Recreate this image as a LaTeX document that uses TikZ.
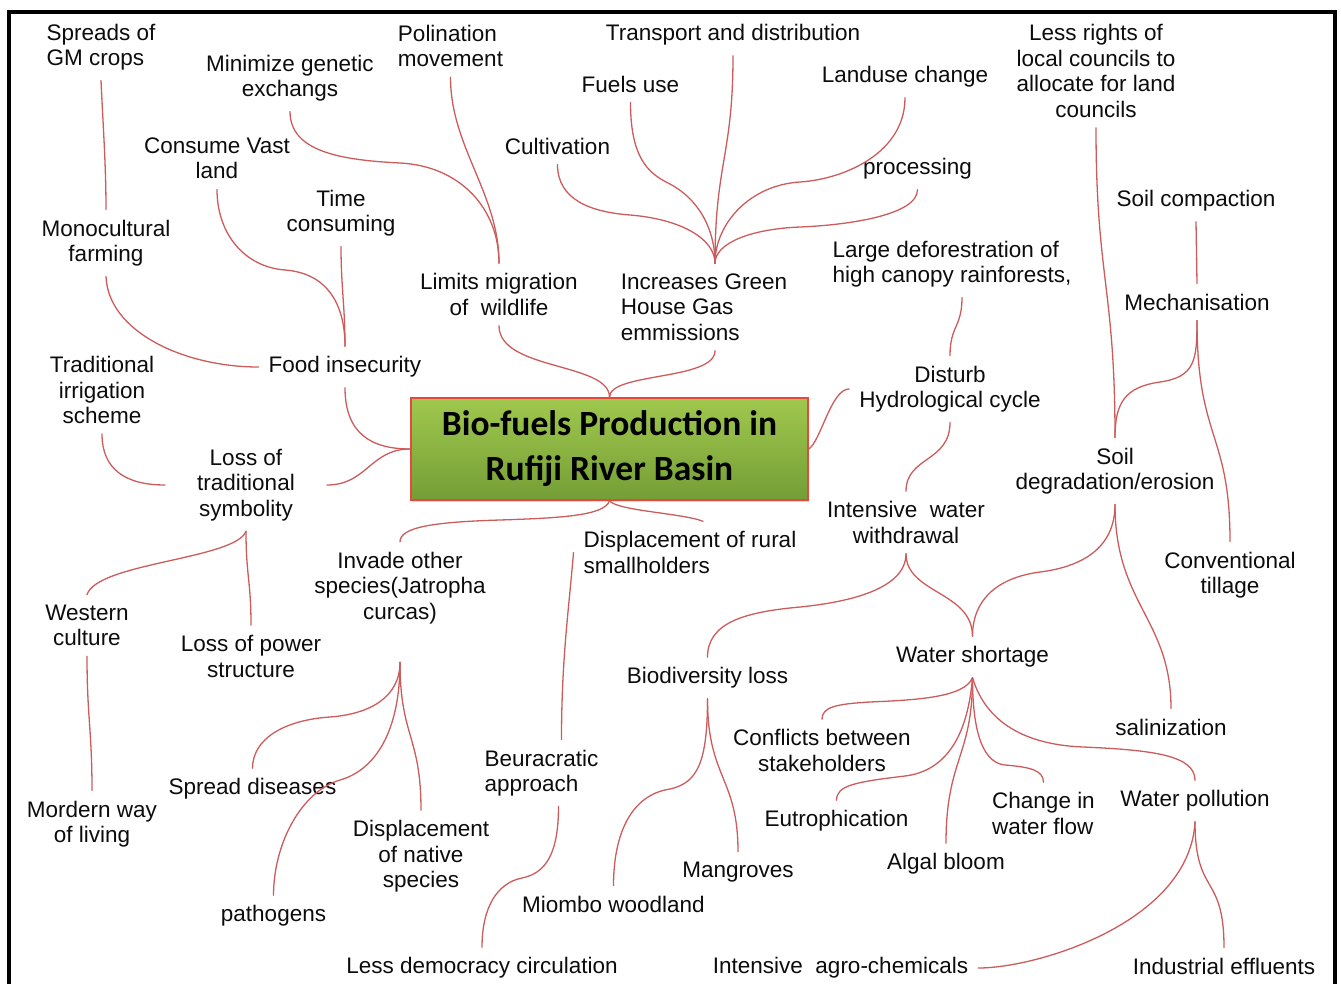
\documentclass[tikz,border=0pt]{standalone}
\usepackage{fontspec}
\setmainfont{Liberation Sans}
\newfontfamily\hubfont{Carlito}
\usetikzlibrary{shadows}
\definecolor{linkclr}{RGB}{204,92,92}
\definecolor{inkclr}{RGB}{12,12,12}
\definecolor{hubtop}{RGB}{160,200,78}
\definecolor{hubbot}{RGB}{116,158,54}
\definecolor{hubedge}{RGB}{228,72,62}
\tikzset{
  topic/.style={font=\fontsize{22.5}{25.5}\selectfont, text=inkclr,
                inner sep=10pt, align=center},
  ltopic/.style={topic, align=left},
  hub/.style={draw=hubedge, line width=1.6pt, top color=hubtop, bottom color=hubbot,
              minimum width=397pt, minimum height=102pt, align=center,
              font=\hubfont\bfseries\fontsize{35.5}{45}\selectfont,
              drop shadow={shadow xshift=1pt, shadow yshift=-2pt, opacity=0.25}},
  link/.style={draw=linkclr, line width=1.3pt, line cap=round},
}

\begin{document}
\begin{tikzpicture}[x=1pt, y=-1pt]
\useasboundingbox (0,0) rectangle (1341,983);
\clip (0,0) rectangle (1341,983);
\draw[line width=4pt] (9,1000) |- (1335,11.5) -- (1335,1000);

\node[hub] (biofuel) at (609.5,449) {Bio-fuels Production in\\Rufiji River Basin};

\node[ltopic] (gm) at (101,47) {Spreads of\\GM crops};
\node[topic] (mingen) at (290,78) {Minimize genetic\\exchangs};
\node[ltopic] (polin) at (450.5,46) {Polination\\movement};
\node[topic] (transp) at (733,35) {Transport and distribution};
\node[topic] (fuels) at (630.5,84) {Fuels use};
\node[topic] (landuse) at (905,77) {Landuse change};
\node[topic] (rights) at (1096,71) {Less rights of\\local councils to\\allocate for land\\councils};
\node[topic] (vastland) at (217,158.5) {Consume Vast\\land};
\node[topic] (cultiv) at (557.5,146) {Cultivation};
\node[topic] (process) at (917.5,169) {processing};
\node[topic] (compact) at (1196,201) {Soil compaction};
\node[topic] (timecons) at (341,213) {Time\\consuming};
\node[topic] (mono) at (106,243) {Monocultural\\farming};
\node[ltopic] (deforest) at (952,264) {Large deforestration of\\high canopy rainforests,};
\node[topic] (migr) at (499,294.5) {Limits migration\\of~ wildlife};
\node[ltopic] (ghg) at (704,307) {Increases Green\\House Gas\\emmissions};
\node[topic] (mech) at (1197,302) {Mechanisation};
\node[topic] (food) at (345,367) {Food insecurity};
\node[topic] (irrig) at (102,390) {Traditional\\irrigation\\scheme};
\node[topic] (hydro) at (950,389) {Disturb\\Hydrological cycle};
\node[topic, inner xsep=32pt] (symbol) at (246,485) {Loss of\\traditional\\symbolity};
\node[topic] (soildeg) at (1115,471) {Soil\\degradation/erosion};
\node[topic] (withdraw) at (906,522.5) {Intensive~ water\\withdrawal};
\node[ltopic] (rural) at (690,552.5) {Displacement of rural\\smallholders};
\node[topic] (invade) at (400,588) {Invade other\\species(Jatropha\\curcas)};
\node[topic] (tillage) at (1230,575) {Conventional\\tillage};
\node[topic] (western) at (87,625.5) {Western\\culture};
\node[topic] (power) at (251,656.5) {Loss of power\\structure};
\node[topic] (shortage) at (972.5,657) {Water shortage};
\node[topic] (biodiv) at (707.5,678) {Biodiversity loss};
\node[topic] (salin) at (1171,727) {salinization};
\node[topic] (conflict) at (822,750.5) {Conflicts between\\stakeholders};
\node[ltopic] (bureau) at (541.5,773) {Beuracratic\\approach};
\node[topic] (disease) at (252.5,789) {Spread diseases};
\node[ltopic] (flow) at (1043.5,813.5) {Change in\\water flow};
\node[topic] (pollut) at (1195,801) {Water pollution};
\node[topic] (modern) at (92,824) {Mordern way\\of living};
\node[topic] (eutro) at (836.5,821) {Eutrophication};
\node[topic] (native) at (421,856.5) {Displacement\\of native\\species};
\node[topic] (algal) at (946,864) {Algal bloom};
\node[topic] (mangrove) at (738,872) {Mangroves};
\node[topic] (miombo) at (613.5,904) {Miombo woodland};
\node[topic] (pathogen) at (273.5,916) {pathogens};
\node[topic] (democ) at (482,968) {Less democracy circulation};
\node[topic] (agrochem) at (840.5,968) {Intensive~ agro-chemicals};
\node[topic] (effluent) at (1224,966) {Industrial effluents};

\draw[link] (gm.south) .. controls +(2,45) and +(0,-45) .. (mono.north);
\draw[link] (mono.south) .. controls +(2,55) and +(-75,0) .. (food.west);
\draw[link] (vastland.south) .. controls +(0,45) and +(-40,-3) .. (285,270) .. controls +(40,3) and +(0,-45) .. (food.north);
\draw[link] (timecons.south) .. controls +(0,40) and +(0,-40) .. (food.north);
\draw[link] (food.south) .. controls +(0,45) and +(-40,0) .. (biofuel.west);
\draw[link] (irrig.south) .. controls +(0,35) and +(-40,0) .. (symbol.west);
\draw[link] (symbol.east) .. controls +(40,0) and +(-40,0) .. (biofuel.west);
\draw[link] (symbol.south) .. controls +(-10,28) and +(10,-32) .. (western.north);
\draw[link] (symbol.south) .. controls +(0,45) and +(0,-45) .. (power.north);
\draw[link] (western.south) .. controls +(0,60) and +(0,-60) .. (modern.north);

\draw[link] (mingen.south) .. controls +(0,40) and +(-60,-3) .. (400,163) .. controls +(60,3) and +(0,-55) .. (migr.north);
\draw[link] (polin.south) .. controls +(0,70) and +(0,-70) .. (migr.north);
\draw[link] (migr.south) .. controls +(0,45) and +(0,-35) .. (biofuel.north);
\draw[link] ([xshift=11pt]ghg.south) .. controls +(0,30) and +(0,-25) .. (biofuel.north);
\draw[link] (cultiv.south) .. controls +(0,35) and +(-40,-3) .. (630,215) .. controls +(50,4) and +(0,-25) .. ([xshift=11pt]ghg.north);
\draw[link] (fuels.south) .. controls +(0,55) and +(-20,-10) .. (668,183) .. controls +(30,15) and +(0,-35) .. ([xshift=11pt]ghg.north);
\draw[link] (transp.south) .. controls +(0,100) and +(0,-100) .. ([xshift=11pt]ghg.north);
\draw[link] (landuse.south) .. controls +(0,55) and +(45,-3) .. (800,182) .. controls +(-50,3) and +(0,-40) .. ([xshift=11pt]ghg.north);
\draw[link] (process.south) .. controls +(0,25) and +(50,-2) .. (800,227) .. controls +(-50,2) and +(0,-20) .. ([xshift=11pt]ghg.north);

\draw[link] ([xshift=10pt]deforest.south) .. controls +(0,30) and +(0,-30) .. (hydro.north);
\draw[link] (hydro.west) .. controls +(-18,0) and +(12,-8) .. (biofuel.east);
\draw[link] (hydro.south) .. controls +(0,40) and +(0,-35) .. (withdraw.north);
\draw[link] (withdraw.south) .. controls +(0,35) and +(50,-5) .. (800,607) .. controls +(-55,5) and +(0,-35) .. (biodiv.north);
\draw[link] (withdraw.south) .. controls +(0,40) and +(0,-45) .. (shortage.north);
\draw[link] (soildeg.south) .. controls +(0,45) and +(40,-5) .. (1040,572) .. controls +(-45,6) and +(0,-35) .. (shortage.north);
\draw[link] (soildeg.south) .. controls +(0,100) and +(0,-90) .. (salin.north);
\draw[link] (rights.south) .. controls +(0,150) and +(0,-150) .. (soildeg.north);
\draw[link] (compact.south) -- (mech.north);
\draw[link] (mech.south) .. controls +(0,40) and +(35,-5) .. (1160,382) .. controls +(-35,5) and +(0,-35) .. (soildeg.north);
\draw[link] (mech.south) .. controls +(0,120) and +(0,-110) .. (tillage.north);

\draw[link] (biofuel.south) .. controls +(-5,15) and +(60,-2) .. (500,520) .. controls +(-65,2) and +(0,-15) .. (invade.north);
\draw[link] (biofuel.south) .. controls +(8,10) and +(-20,-8) .. ([xshift=13pt]rural.north);
\draw[link] (rural.west) .. controls +(-5,60) and +(0,-80) .. ([xshift=20pt]bureau.north);
\draw[link] ([xshift=17pt]bureau.south) .. controls +(0,45) and +(25,-5) .. (522,878) .. controls +(-25,5) and +(0,-40) .. (democ.north);
\draw[link] ([yshift=-28pt]invade.south) .. controls +(0,35) and +(40,-3) .. (330,717) .. controls +(-45,3) and +(0,-30) .. (disease.north);
\draw[link] ([yshift=-28pt]invade.south) .. controls +(0,70) and +(35,-10) .. (340,780) .. controls +(-40,12) and +(0,-50) .. (pathogen.north);
\draw[link] ([yshift=-28pt]invade.south) .. controls +(0,75) and +(0,-75) .. (native.north);

\draw[link] (biodiv.south) .. controls +(0,70) and +(30,-5) .. (665,790) .. controls +(-35,8) and +(0,-50) .. (miombo.north);
\draw[link] (biodiv.south) .. controls +(0,80) and +(0,-75) .. (mangrove.north);
\draw[link] (shortage.south) .. controls +(-8,20) and +(45,-2) .. (870,702) .. controls +(-35,2) and +(0,-12) .. (conflict.north);
\draw[link] (shortage.south) .. controls +(-5,60) and +(40,-5) .. (905,776) .. controls +(-50,6) and +(0,-15) .. (eutro.north);
\draw[link] (shortage.south) .. controls +(0,80) and +(0,-85) .. (algal.north);
\draw[link] (shortage.south) .. controls +(0,60) and +(-20,-2) .. (1005,765) .. controls +(25,2) and +(0,-12) .. (flow.north);
\draw[link] (shortage.south) .. controls +(15,50) and +(-50,-2) .. (1083,747) .. controls +(70,3) and +(0,-25) .. (pollut.north);
\draw[link] (pollut.south) .. controls +(0,75) and +(0,-75) .. (effluent.north);
\draw[link] (pollut.south) .. controls +(-5,100) and +(60,0) .. (agrochem.east);
\end{tikzpicture}
\end{document}
